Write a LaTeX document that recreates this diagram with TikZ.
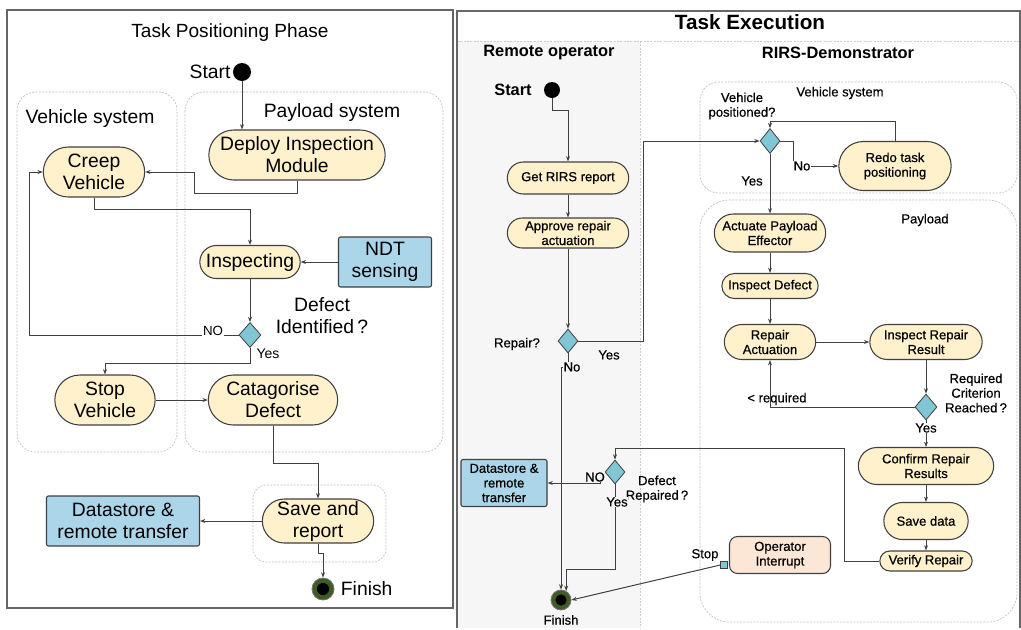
\documentclass[tikz,border=0pt]{standalone}
\usepackage{fontspec}
\setmainfont{Liberation Sans}
\newfontfamily\rfont[FakeBold=0.5]{Liberation Sans}
\usetikzlibrary{arrows.meta,shapes.misc,shapes.geometric}
\definecolor{actfill}{RGB}{255,241,204}
\definecolor{datafill}{RGB}{171,214,234}
\definecolor{decfill}{RGB}{128,198,212}
\definecolor{lanegray}{RGB}{246,246,246}
\definecolor{intfill}{RGB}{252,230,214}
\definecolor{fingreen}{RGB}{64,92,36}
\definecolor{edgec}{RGB}{64,64,64}
\tikzset{
  sz/.style 2 args={minimum width=#1*0.75pt, minimum height=#2*0.75pt},
  bigf/.style={font=\fontsize{14.5}{16.5}\selectfont},
  smf/.style={font=\rfont\fontsize{9.8}{11}\selectfont},
  act/.style={draw=edgec, line width=0.8pt, fill=actfill, rounded rectangle, inner sep=1pt, align=center},
  databox/.style={draw=edgec, line width=0.8pt, fill=datafill, rounded corners=1.5pt, inner sep=1pt, align=center},
  dec/.style={draw=edgec, line width=0.6pt, fill=decfill, diamond, inner sep=0pt},
  arr/.style={draw=edgec, line width=0.75pt, -{Stealth[length=4pt,width=3pt]}},
  ln/.style={draw=edgec, line width=0.75pt},
  region/.style={draw=black!25, dash pattern=on 1.5pt off 1pt, line width=0.5pt, rounded corners=14pt},
  lbl/.style={inner sep=0.5pt, align=center},
}
\begin{document}
\begin{tikzpicture}[x=0.75pt,y=-0.75pt]
\useasboundingbox (0,0) rectangle (1021,629);
% ================= LEFT PANEL =================
\draw[draw=black!60, line width=1pt] (7,10) rectangle (453,608);
\node[lbl, font=\fontsize{14.3}{16}\selectfont] (t1) at (230,33) {Task Positioning Phase};
\draw[region] (17,92) rectangle (177,452);
\draw[region] (185,92) rectangle (443,452);
\node[lbl, bigf] (vsl) at (90,118) {Vehicle system};
\node[lbl, bigf] (psl) at (332,112) {Payload system};

\node[circle, fill=black, inner sep=0pt, minimum size=13.5pt] (start1) at (242,72) {};
\node[lbl, bigf, anchor=east] (startl1) at ([xshift=-1pt]start1.west) {Start};

\node[act, bigf, sz={179}{50}] (deploy) at (297,155) {Deploy Inspection\\Module};
\node[act, bigf, sz={104}{50}] (creep) at (94,172) {Creep\\Vehicle};
\node[act, bigf, sz={103}{33}] (insp) at (250,262) {Inspecting};
\node[databox, bigf, sz={93}{50}] (ndt) at (385,262) {NDT\\sensing};
\node[dec, sz={22}{25}] (dec1) at (250,335) {};
\node[lbl, bigf] (dil) at (322,316) {Defect\\Identified\,?};
\node[lbl, font=\fontsize{10.5}{11}\selectfont] (yesl1) at (268,354) {Yes};
\node[act, bigf, sz={103}{50}] (stop) at (105,400) {Stop\\Vehicle};
\node[act, bigf, sz={132}{50}] (cat) at (273,400) {Catagorise\\Defect};
\draw[region, rounded corners=10pt] (253,485) rectangle (386,562);
\node[act, bigf, sz={114}{44}] (save) at (318,521) {Save and\\report};
\node[databox, bigf, sz={153}{50}] (ds1) at (123,521) {Datastore \&\\remote transfer};
\node[circle, fill=fingreen, draw=black!55, line width=0.6pt, inner sep=0pt, minimum size=16.5pt] (fin1) at (323,589) {};
\fill[black] (fin1.center) circle[radius=4.6pt];
\node[lbl, bigf, anchor=west] (finl1) at (340,589) {Finish};

\draw[arr] (start1.south) -- (start1.south |- deploy.north);
\draw[arr] (deploy.south) |- (194,193) |- (creep.east);
\draw[arr] (creep.south) |- (250,209) -- (insp.north);
\draw[arr] (ndt.west) -- (insp.east);
\draw[arr] (insp.south) -- (dec1.north);
\draw[arr] (dec1.west) -- (29,335) |- (creep.west);
\draw[arr] (dec1.south) -- ++(0,16) -| (stop.north);
\draw[arr] (stop.east) -- (cat.west);
\draw[arr] (cat.south) -- ++(0,38) -| (save.north);
\draw[arr] (save.west) -- (save.west -| ds1.east);
\draw[arr] (save.south) -- ++(0,10) -| (fin1.north);
\node[lbl, fill=white, font=\fontsize{10}{11}\selectfont] (nol1) at (213,331) {NO};

% ================= RIGHT PANEL =================
\fill[lanegray] (457,41) rectangle (640,628);
\draw[black!20, dash pattern=on 1.5pt off 1pt, line width=0.5pt] (457,41) -- (1020,41);
\draw[black!20, dash pattern=on 1.5pt off 1pt, line width=0.5pt] (640,41) -- (640,628);
\draw[draw=black!60, line width=1pt] (457,628) -- (457,11) -- (1020,11) -- (1020,628);
\node[lbl, font=\bfseries\fontsize{15.5}{17}\selectfont] (t2) at (750,22) {Task Execution};
\node[lbl, font=\bfseries\fontsize{12.3}{14}\selectfont] (rol) at (549,53) {Remote operator};
\node[lbl, font=\bfseries\fontsize{12.3}{14}\selectfont] (rdl) at (838,53) {RIRS-Demonstrator};

\draw[region] (700,82) rectangle (1017,193);
\draw[region, rounded corners=22pt] (700,200) rectangle (1017,622);
\node[lbl, smf] (vsl2) at (840,93) {Vehicle system};
\node[lbl, smf] (payl) at (925,220) {Payload};

\node[circle, fill=black, inner sep=0pt, minimum size=12pt] (start2) at (552,90) {};
\node[lbl, font=\bfseries\fontsize{12.3}{14}\selectfont] (startl2) at (513,90) {Start};
\node[act, smf, sz={124}{32}] (getr) at (568,178) {Get RIRS report};
\node[act, smf, sz={124}{30}] (appr) at (568,233) {Approve repair\\actuation};
\node[dec, sz={20}{24}] (dec2) at (568,341) {};
\node[lbl, smf] (repl) at (517,344) {Repair?};
\node[lbl, smf] (yesl2) at (609,355) {Yes};
\node[databox, smf, sz={86}{47}] (ds2) at (504,483) {Datastore \&\\remote\\transfer};
\node[dec, sz={20}{24}] (dec3) at (615,472) {};
\node[lbl, smf] (drl) at (657,489) {Defect\\Repaired\,?};
\node[circle, fill=fingreen, draw=black!55, line width=0.6pt, inner sep=0pt, minimum size=15pt] (fin2) at (561,600) {};
\fill[black] (fin2.center) circle[radius=4.2pt];
\node[lbl, smf] (finl2) at (561,620) {Finish};

\node[lbl, smf] (vpl) at (742,106) {Vehicle\\positioned?};
\node[dec, sz={20}{25}] (dec4) at (770,141) {};
\node[act, smf, sz={115}{49}] (redo) at (895,166) {Redo task\\positioning};
\node[lbl, smf] (yesl4) at (752,181) {Yes};
\node[act, smf, sz={114}{38}] (actu) at (770,233) {Actuate Payload\\Effector};
\node[act, smf, sz={99}{25}] (inspd) at (770,286) {Inspect Defect};
\node[act, smf, sz={94}{35}] (repa) at (770,342) {Repair\\Actuation};
\node[act, smf, sz={115}{35}] (insr) at (926,342) {Inspect Repair\\Result};
\node[dec, sz={22}{26}] (dec5) at (926,407) {};
\node[lbl, smf] (rcl) at (976,393) {Required\\Criterion\\Reached\,?};
\node[lbl, smf] (reql) at (777,399) {< required};
\node[act, smf, sz={138}{37}] (conf) at (926,466) {Confirm Repair\\Results};
\node[act, smf, sz={87}{37}] (saved) at (926,521) {Save data};
\node[act, smf, sz={95}{20}] (verify) at (926,561) {Verify Repair};
\node[draw=edgec, line width=0.8pt, fill=intfill, rounded corners=6pt, smf, sz={101}{37}, align=center, inner sep=1pt] (opint) at (780,555) {Operator\\Interrupt};
\node[draw=edgec, line width=0.6pt, fill=decfill, inner sep=0pt, minimum size=5pt] (pin) at (724,565) {};
\node[lbl, smf] (stopl) at (705,555) {Stop};

\draw[arr] (start2.south) -- ++(0,12) -| (getr.north);
\draw[arr] (getr.south) -- (appr.north);
\draw[arr] (appr.south) -- (dec2.north);
\draw[arr] (dec2.east) -| (643,141) -- (dec4.west);
\draw[arr] (dec2.south) |- (fin2.north |- 0,367) -- (fin2.north);
\node[lbl, smf, fill=lanegray] (nol2) at (572,367) {No};
\draw[arr] (dec3.south) -- (615,569) -| (fin2.60);
\node[lbl, smf, fill=lanegray] (yesl3) at (617,502) {Yes};
\draw[arr] (dec3.west) -- ++(-4,0) |- (ds2.east);
\node[lbl, smf, fill=lanegray] (nol3) at (595,477) {NO};
\draw[arr] (verify.west) -| (844,448) -| (dec3.north);
\draw[arr] (pin.west) -- (fin2.east);

\draw[arr] (dec4.east) -| (793,166) -- (redo.west);
\node[lbl, smf, fill=white] (nol4) at (802,166) {No};
\draw[arr] (redo.north) -- ++(0,-19) -| (dec4.north);
\draw[arr] (dec4.south) -- (actu.north);
\draw[arr] (actu.south) -- (inspd.north);
\draw[arr] (inspd.south) -- (repa.north);
\draw[arr] (repa.east) -- (insr.west);
\draw[arr] (insr.south) -- (dec5.north);
\draw[arr] (dec5.west) -| (repa.south);
\draw[arr] (dec5.south) -- (conf.north);
\node[lbl, smf, fill=white] (yesl5) at (926,428) {Yes};
\draw[arr] (conf.south) -- (saved.north);
\draw[arr] (saved.south) -- (verify.north);
\end{tikzpicture}
\end{document}
